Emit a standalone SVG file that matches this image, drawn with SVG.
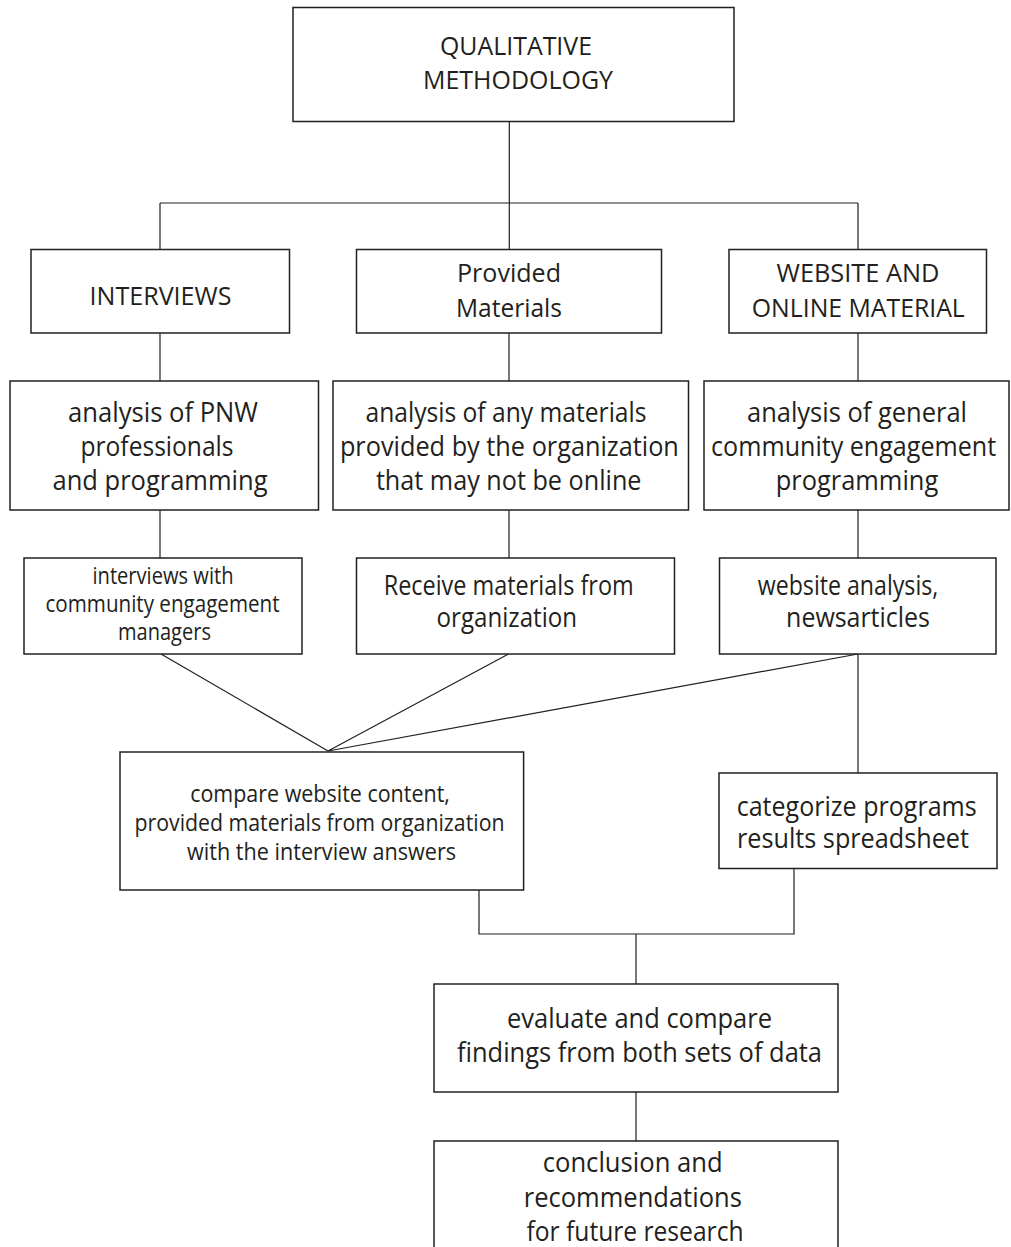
<svg xmlns="http://www.w3.org/2000/svg" width="1011" height="1247" viewBox="0 0 1011 1247">
<style>
.box{fill:#fff;stroke:#231f20;stroke-width:1.5}
.ln{fill:none;stroke:#231f20;stroke-width:1.2}
text{font-family:"Open Sans","Noto Sans","Liberation Sans",sans-serif;fill:#231f20;text-anchor:middle}
.t26{font-size:26px}.t28{font-size:28px}.t23{font-size:23px}
</style>
<rect width="1011" height="1247" fill="#fff"/>
<g id="connectors">
<path class="ln" d="M509.3 122V249.5M160 203H858M160 203V249.5M858 203V249.5"/>
<path class="ln" d="M160 333V381M509 333V381M858 333V381"/>
<path class="ln" d="M160 510V558M509 510V558M858 510V558"/>
<path class="ln" d="M161 654L328 751M508.5 654L328 751M858 654L328 751M858 654V773"/>
<path class="ln" d="M479 890V934H794V869M636 934V984M636 1092V1141"/>
</g>
<g id="n-top"><rect class="box" x="293" y="7.5" width="441" height="114"/>
<text class="t26" x="516" y="55" textLength="152" lengthAdjust="spacingAndGlyphs">QUALITATIVE</text>
<text class="t26" x="518" y="89" textLength="190" lengthAdjust="spacingAndGlyphs">METHODOLOGY</text></g>
<g id="n-interviews"><rect class="box" x="31" y="249.5" width="258.5" height="83.5"/>
<text class="t26" x="160.5" y="305" textLength="142" lengthAdjust="spacingAndGlyphs">INTERVIEWS</text></g>
<g id="n-provided"><rect class="box" x="356.5" y="249.5" width="305" height="83.5"/>
<text class="t26" x="509" y="282" textLength="104" lengthAdjust="spacingAndGlyphs">Provided</text>
<text class="t26" x="509" y="317" textLength="106" lengthAdjust="spacingAndGlyphs">Materials</text></g>
<g id="n-website"><rect class="box" x="729" y="249.5" width="257.5" height="83.5"/>
<text class="t26" x="858" y="281.5" textLength="163" lengthAdjust="spacingAndGlyphs">WEBSITE AND</text>
<text class="t26" x="858.3" y="316.5" textLength="213" lengthAdjust="spacingAndGlyphs">ONLINE MATERIAL</text></g>
<g id="n-analysis-pnw"><rect class="box" x="10" y="381" width="308.5" height="129"/>
<text class="t28" x="163" y="422" textLength="190" lengthAdjust="spacingAndGlyphs">analysis of PNW</text>
<text class="t28" x="157" y="456" textLength="153" lengthAdjust="spacingAndGlyphs">professionals</text>
<text class="t28" x="160" y="490" textLength="215" lengthAdjust="spacingAndGlyphs">and programming</text></g>
<g id="n-analysis-materials"><rect class="box" x="333" y="381" width="355.5" height="129"/>
<text class="t28" x="506" y="422" textLength="281" lengthAdjust="spacingAndGlyphs">analysis of any materials</text>
<text class="t28" x="509.4" y="456" textLength="339" lengthAdjust="spacingAndGlyphs">provided by the organization</text>
<text class="t28" x="508.7" y="490" textLength="265.6" lengthAdjust="spacingAndGlyphs">that may not be online</text></g>
<g id="n-analysis-general"><rect class="box" x="704" y="381" width="305" height="129"/>
<text class="t28" x="857" y="422" textLength="220" lengthAdjust="spacingAndGlyphs">analysis of general</text>
<text class="t28" x="853.6" y="456" textLength="285" lengthAdjust="spacingAndGlyphs">community engagement</text>
<text class="t28" x="857" y="490" textLength="162.5" lengthAdjust="spacingAndGlyphs">programming</text></g>
<g id="n-interviews-managers"><rect class="box" x="24" y="558" width="278" height="96"/>
<text class="t23" x="163" y="584" textLength="141" lengthAdjust="spacingAndGlyphs">interviews with</text>
<text class="t23" x="162.5" y="612" textLength="234" lengthAdjust="spacingAndGlyphs">community engagement</text>
<text class="t23" x="164.5" y="640" textLength="93" lengthAdjust="spacingAndGlyphs">managers</text></g>
<g id="n-receive"><rect class="box" x="356.5" y="558" width="318" height="96"/>
<text class="t28" x="508.7" y="595" textLength="250" lengthAdjust="spacingAndGlyphs">Receive materials from</text>
<text class="t28" x="506.8" y="627" textLength="140.5" lengthAdjust="spacingAndGlyphs">organization</text></g>
<g id="n-website-analysis"><rect class="box" x="719.5" y="558" width="276.5" height="96"/>
<text class="t28" x="848" y="595" textLength="180.5" lengthAdjust="spacingAndGlyphs">website analysis,</text>
<text class="t28" x="858" y="627" textLength="143.8" lengthAdjust="spacingAndGlyphs">newsarticles</text></g>
<g id="n-compare"><rect class="box" x="120" y="752" width="403.6" height="138"/>
<text class="t23" x="320" y="802" textLength="259.7" lengthAdjust="spacingAndGlyphs">compare website content,</text>
<text class="t23" x="319.5" y="831" textLength="370" lengthAdjust="spacingAndGlyphs">provided materials from organization</text>
<text class="t23" x="321.6" y="860" textLength="269" lengthAdjust="spacingAndGlyphs">with the interview answers</text></g>
<g id="n-categorize"><rect class="box" x="719" y="773" width="278" height="95.5"/>
<text class="t28" x="856.7" y="816" textLength="240" lengthAdjust="spacingAndGlyphs">categorize programs</text>
<text class="t28" x="853" y="848" textLength="232" lengthAdjust="spacingAndGlyphs">results spreadsheet</text></g>
<g id="n-evaluate"><rect class="box" x="434" y="984" width="404" height="108"/>
<text class="t28" x="639.5" y="1028" textLength="265" lengthAdjust="spacingAndGlyphs">evaluate and compare</text>
<text class="t28" x="639.5" y="1062" textLength="365" lengthAdjust="spacingAndGlyphs">findings from both sets of data</text></g>
<g id="n-conclusion"><rect class="box" x="434" y="1141" width="404" height="130"/>
<text class="t28" x="632.7" y="1172" textLength="180" lengthAdjust="spacingAndGlyphs">conclusion and</text>
<text class="t28" x="632.8" y="1207" textLength="218" lengthAdjust="spacingAndGlyphs">recommendations</text>
<text class="t28" x="635" y="1241" textLength="217" lengthAdjust="spacingAndGlyphs">for future research</text></g>
</svg>
